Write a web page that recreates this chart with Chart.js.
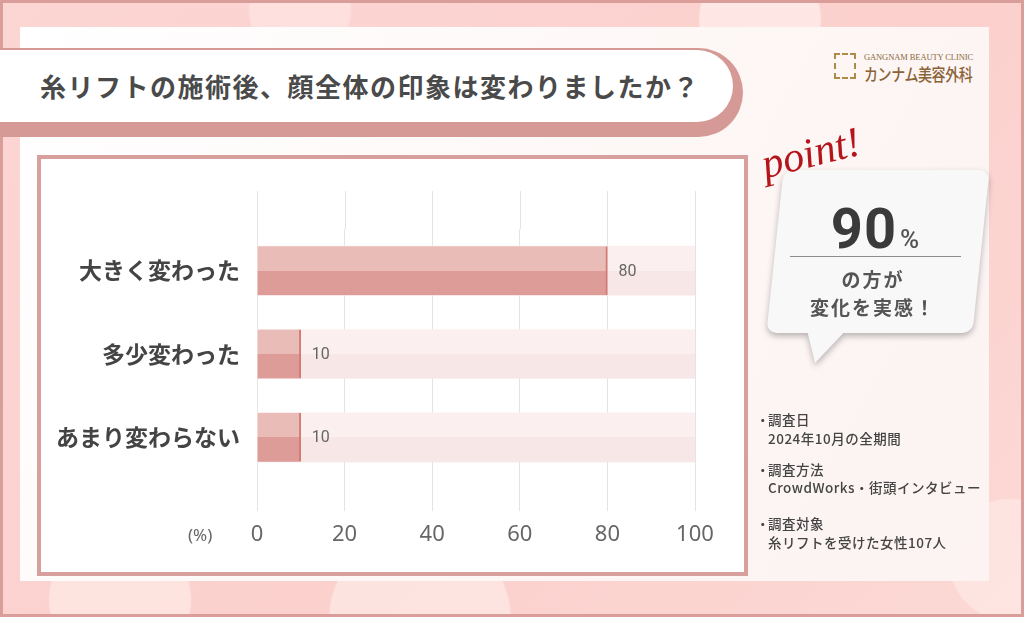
<!DOCTYPE html>
<html lang="ja">
<head>
<meta charset="utf-8">
<script src="https://cdn.jsdelivr.net/npm/chart.js@4.4.1/dist/chart.umd.min.js"></script>
<style>
  html, body { margin: 0; padding: 0; }
  body {
    width: 1024px; height: 617px; position: relative; overflow: hidden;
    font-family: "Noto Sans CJK JP", "Noto Sans", sans-serif;
    background:
      radial-gradient(circle at 120px 600px, rgba(255,235,230,0.7) 0 70px, rgba(255,235,230,0) 72px),
      radial-gradient(circle at 420px 620px, rgba(255,240,236,0.6) 0 90px, rgba(255,240,236,0) 92px),
      radial-gradient(circle at 760px 20px, rgba(255,240,238,0.7) 0 60px, rgba(255,240,238,0) 62px),
      radial-gradient(circle at 300px 10px, rgba(255,232,230,0.6) 0 50px, rgba(255,232,230,0) 52px),
      radial-gradient(circle at 1010px 560px, rgba(255,236,232,0.6) 0 60px, rgba(255,236,232,0) 62px),
      linear-gradient(135deg, #fcd6d3, #fbd0cd 60%, #fcd9d5);
    box-shadow: inset 0 0 0 3px #d99e9a;
  }
  .abs { position: absolute; }
  #panel {
    left: 20px; top: 27px; width: 969px; height: 554px;
    background: linear-gradient(120deg, #ffffff 0%, #fdf7f6 55%, #fcf3f2 100%);
  }
  #titleShadow {
    left: 0; top: 48px; width: 743px; height: 89px;
    background: #d69a96; border-radius: 0 46px 46px 0;
  }
  #titleBox {
    left: 0; top: 50px; width: 733px; height: 72px;
    background: #fff; border-radius: 0 36px 36px 0;
  }
  #titleText {
    left: 40px; top: 50px; height: 72px; line-height: 72px;
    font-size: 26px; font-weight: 700; color: #4a4a4a; letter-spacing: 1.5px;
  }
  #chartBox {
    left: 37px; top: 155px; width: 703px; height: 413px;
    border: 4px solid #d8a09c; background: #fff;
  }
  #chartBox canvas { display: block; }
  #pct { left: 188px; top: 523px; font-size: 17px; color: #666; font-family: "Noto Sans", sans-serif; }
  #logoIcon {
    left: 834px; top: 53px; width: 22px; height: 26px;
    border: 2px dashed #b08a4a; box-sizing: border-box;
  }
  #logoEn { left: 864px; top: 52px; font-family: "Liberation Serif", serif; font-size: 8.5px; color: #8a6b3c; letter-spacing: -0.1px; }
  #logoJa {
    left: 864px; top: 62px; font-family: "Noto Sans CJK JP", serif; font-size: 14px; font-weight: 500;
    color: #8a6438; letter-spacing: -0.4px; transform: scaleY(1.2); transform-origin: left top;
  }
  #bubbleWrap { left: 0; top: 0; width: 1024px; height: 617px; filter: drop-shadow(0 3px 3px rgba(0,0,0,0.28)); }
  #bubble {
    left: 775px; top: 170px; width: 206px; height: 163px;
    background: #f8f8f8; border-radius: 10px; transform: skewX(-6deg);
  }
  #tail {
    left: 0; top: 0; width: 1024px; height: 617px; background: #f8f8f8;
    clip-path: polygon(806px 326px, 850px 326px, 815px 363px);
  }
  #point {
    left: 768px; top: 140px; font-family: "Liberation Serif", serif; font-style: italic;
    font-size: 42px; color: #b5141b; transform: rotate(-14deg); transform-origin: left bottom;
  }
  #big { left: 790px; top: 196px; width: 170px; text-align: center; color: #3a3a3a; font-family: Roboto, sans-serif; }
  #big .n { font-size: 56px; font-weight: 700; letter-spacing: 1px; }
  #big .p { font-size: 26px; font-weight: 500; color: #555; margin-left: 3px; }
  #rule { left: 790px; top: 256px; width: 171px; height: 1px; background: #8d8d8d; }
  .bt { width: 170px; left: 788px; text-align: center; font-size: 19px; font-weight: 700; color: #555; letter-spacing: 2px; }
  .note { left: 756px; font-size: 13.5px; color: #444; font-weight: 500; letter-spacing: 0.5px; white-space: nowrap; }
  .note .d { display: inline-block; width: 12px; }
</style>
</head>
<body>
<div id="panel" class="abs"></div>
<div id="titleShadow" class="abs"></div>
<div id="titleBox" class="abs"></div>
<div id="titleText" class="abs">糸リフトの施術後、顔全体の印象は変わりましたか？</div>

<div id="logoIcon" class="abs"></div>
<div id="logoEn" class="abs">GANGNAM BEAUTY CLINIC</div>
<div id="logoJa" class="abs">カンナム美容外科</div>

<div id="chartBox" class="abs"><canvas id="chart" width="703" height="413"></canvas></div>
<div id="pct" class="abs">(%)</div>

<div id="bubbleWrap" class="abs">
  <div id="bubble" class="abs"></div>
  <div id="tail" class="abs"></div>
</div>
<div id="point" class="abs">point!</div>
<div id="big" class="abs"><span class="n">90</span><span class="p">%</span></div>
<div id="rule" class="abs"></div>
<div class="abs bt" style="top:265px;">の方が</div>
<div class="abs bt" style="top:293px;">変化を実感！</div>

<div class="abs note" style="top:409px;"><span class="d">・</span>調査日</div>
<div class="abs note" style="top:428px;"><span class="d"></span>2024年10月の全期間</div>
<div class="abs note" style="top:459px;"><span class="d">・</span>調査方法</div>
<div class="abs note" style="top:477px;"><span class="d"></span>CrowdWorks・街頭インタビュー</div>
<div class="abs note" style="top:513px;"><span class="d">・</span>調査対象</div>
<div class="abs note" style="top:532px;"><span class="d"></span>糸リフトを受けた女性107人</div>

<script>
const categories = ["大きく変わった", "多少変わった", "あまり変わらない"];
const values = [80, 10, 10];
const fullScale = [100, 100, 100];
const xTicks = [0, 20, 40, 60, 80, 100];

// two-tone fill: lighter upper half, darker lower half
function twoTone(top, bottom) {
  return (c) => {
    const chart = c.chart;
    const y = chart.scales && chart.scales.y;
    if (!y || c.type !== "data") return bottom;
    const mid = y.getPixelForValue(c.dataIndex);
    if (!Number.isFinite(mid)) return bottom;
    const g = chart.ctx.createLinearGradient(0, mid - 25, 0, mid + 25);
    g.addColorStop(0, top);
    g.addColorStop(0.5, top);
    g.addColorStop(0.5, bottom);
    g.addColorStop(1, bottom);
    return g;
  };
}

// grid lines reach a bit above the plot like the original
const gridTop = {
  id: "gridTop",
  afterDraw(chart) {
    const { ctx, chartArea, scales } = chart;
    ctx.save();
    ctx.strokeStyle = "rgba(120,120,120,0.2)";
    ctx.lineWidth = 1;
    xTicks.forEach((t) => {
      const x = Math.round(scales.x.getPixelForValue(t)) + 0.5;
      ctx.beginPath();
      ctx.moveTo(x, chartArea.top - 38);
      ctx.lineTo(x, chartArea.top);
      ctx.stroke();
    });
    ctx.restore();
  },
};

const valueLabels = {
  id: "valueLabels",
  afterDatasetsDraw(chart) {
    const { ctx } = chart;
    const meta = chart.getDatasetMeta(0);
    ctx.save();
    ctx.font = "16px Roboto, sans-serif";
    ctx.fillStyle = "#666";
    ctx.textBaseline = "middle";
    meta.data.forEach((bar, i) => {
      ctx.fillText(String(values[i]), bar.x + 11, bar.y + 1);
    });
    ctx.restore();
  },
};

new Chart(document.getElementById("chart"), {
  type: "bar",
  data: {
    labels: categories,
    datasets: [
      {
        data: values,
        order: 0,
        grouped: false,
        barThickness: 49,
        backgroundColor: twoTone("#e9bcb8", "#de9c98"),
        borderColor: "#d27a75",
        borderWidth: { top: 0, bottom: 0, left: 0, right: 2 },
        borderSkipped: "left",
      },
      {
        data: fullScale,
        order: 1,
        grouped: false,
        barThickness: 49,
        backgroundColor: twoTone("#fbf0ef", "#f7e8e7"),
        borderWidth: 0,
      },
    ],
  },
  options: {
    indexAxis: "y",
    responsive: false,
    animation: false,
    layout: { padding: { top: 70, right: 49, left: 0, bottom: 0 } },
    plugins: {
      legend: { display: false },
      tooltip: { enabled: false },
    },
    scales: {
      x: {
        min: 0,
        max: 100,
        z: 1,
        afterBuildTicks: (scale) => {
          scale.ticks = xTicks.map((v) => ({ value: v }));
        },
        afterFit: (scale) => {
          scale.height = 93;
        },
        border: { display: false },
        grid: { color: "rgba(120,120,120,0.2)", tickLength: 32 },
        ticks: {
          padding: 11,
          color: "#666",
          font: { family: "'Noto Sans', sans-serif", size: 22 },
        },
      },
      y: {
        afterFit: (scale) => {
          scale.width = 216;
        },
        border: { display: false },
        grid: { display: false },
        ticks: {
          padding: 9,
          color: "#444",
          font: { family: "'Noto Sans CJK JP', sans-serif", size: 23, weight: "bold" },
        },
      },
    },
  },
  plugins: [gridTop, valueLabels],
});
</script>
</body>
</html>
